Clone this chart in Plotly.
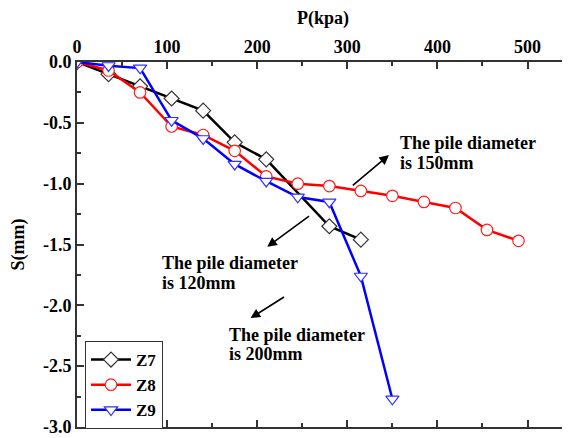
import plotly.graph_objects as go

# Data
p_z7 = [0, 35, 70, 105, 140, 175, 210, 280, 315]
s_z7 = [0, -0.10, -0.20, -0.30, -0.40, -0.66, -0.80, -1.35, -1.46]

p_z8 = [0, 35, 70, 105, 140, 175, 210, 245, 280, 315, 350, 385, 420, 455, 490]
s_z8 = [0, -0.07, -0.25, -0.53, -0.60, -0.73, -0.94, -1.00, -1.02, -1.06, -1.10, -1.15, -1.20, -1.38, -1.47]

p_z9 = [0, 35, 70, 105, 140, 175, 210, 245, 280, 315, 350]
s_z9 = [0, -0.03, -0.05, -0.48, -0.63, -0.84, -0.98, -1.11, -1.15, -1.76, -2.77]

x_ticks = [0, 100, 200, 300, 400, 500]
y_ticks = [0.0, -0.5, -1.0, -1.5, -2.0, -2.5, -3.0]
y_ticktext = ["0.0", "-0.5", "-1.0", "-1.5", "-2.0", "-2.5", "-3.0"]

FONT = "Liberation Serif"

fig = go.Figure()
series = [
    ("Z7", p_z7, s_z7, "#000000", "#333333", "diamond"),
    ("Z8", p_z8, s_z8, "#ff0000", "#ff2020", "circle"),
    ("Z9", p_z9, s_z9, "#0000ff", "#3030ff", "triangle-down"),
]
for name, xs, ys, lc, mc, sym in series:
    fig.add_trace(go.Scatter(
        x=xs, y=ys, name=name, mode="lines+markers",
        line=dict(color=lc, width=2.5),
        marker=dict(symbol=sym, size=11.5, color="white",
                    line=dict(color=mc, width=1.2)),
    ))

ann = []
def text(x, y, t):
    ann.append(dict(x=x, y=y, xref="x", yref="y", text=t, showarrow=False,
                    xanchor="left", yanchor="middle",
                    font=dict(family=FONT, size=18, color="black", weight="bold")))

def arrow(x0, y0, x1, y1):
    ann.append(dict(x=x1, y=y1, ax=x0, ay=y0, xref="x", yref="y", axref="x", ayref="y",
                    text="", showarrow=True, arrowhead=2, arrowsize=1.2,
                    arrowwidth=1.6, arrowcolor="black"))

text(356, -0.666, "The pile diameter")
text(356, -0.83, "is 150mm")
arrow(304.4, -1.025, 346.2, -0.765)
text(92.6, -1.653, "The pile diameter")
text(92.6, -1.817, "is 120mm")
arrow(259.2, -1.258, 211.1, -1.519)
text(166.7, -2.245, "The pile diameter")
text(166.7, -2.40, "is 200mm")
arrow(231.4, -1.924, 192.6, -2.105)

PLOT_H = 365.0
PLOT_W = 492.0
# axis titles
ann.append(dict(x=0.5, y=1 + (62 - 19) / PLOT_H, xref="paper", yref="paper", text="P(kpa)",
                showarrow=False, xanchor="center", yanchor="middle",
                font=dict(family=FONT, size=18, color="black", weight="bold")))
ann.append(dict(x=-(77 - 18) / PLOT_W, y=0.5, xref="paper", yref="paper", text="S(mm)",
                showarrow=False, textangle=-90, xanchor="center", yanchor="middle",
                font=dict(family=FONT, size=18, color="black", weight="bold")))

tickfont = dict(family=FONT, size=18, color="black", weight="bold")

# page body has an 8px margin, so the figure is offset by 8px
fig.update_layout(
    width=570, height=438,
    margin=dict(l=69, r=9, t=54, b=19),
    paper_bgcolor="white", plot_bgcolor="white",
    showlegend=True,
    legend=dict(x=(85 - 77) / PLOT_W, y=(427 - 341) / PLOT_H, xanchor="left", yanchor="top",
                bordercolor="#333333", borderwidth=1, bgcolor="white",
                font=dict(family=FONT, size=17, color="black", weight="bold"),
                itemwidth=40, tracegroupgap=0),
    annotations=ann,
    xaxis=dict(range=[0, 546], side="top", tickvals=x_ticks, automargin=False,
               ticks="inside", ticklen=7, tickwidth=1.5, tickcolor="#333333",
               minor=dict(ticks="inside", dtick=50, ticklen=4, tickwidth=1.5, tickcolor="#333333"),
               showline=True, linecolor="#333333", linewidth=2, mirror="ticks",
               showgrid=False, zeroline=False, tickfont=tickfont),
    yaxis=dict(range=[-3, 0], tickvals=y_ticks, ticktext=y_ticktext, automargin=False,
               ticks="inside", ticklen=7, tickwidth=1.5, tickcolor="#333333",
               minor=dict(ticks="inside", dtick=0.25, ticklen=4, tickwidth=1.5, tickcolor="#333333"),
               showline=True, linecolor="#333333", linewidth=2, mirror="ticks",
               showgrid=False, zeroline=False, tickfont=tickfont),
)

fig.write_html("out.html")
